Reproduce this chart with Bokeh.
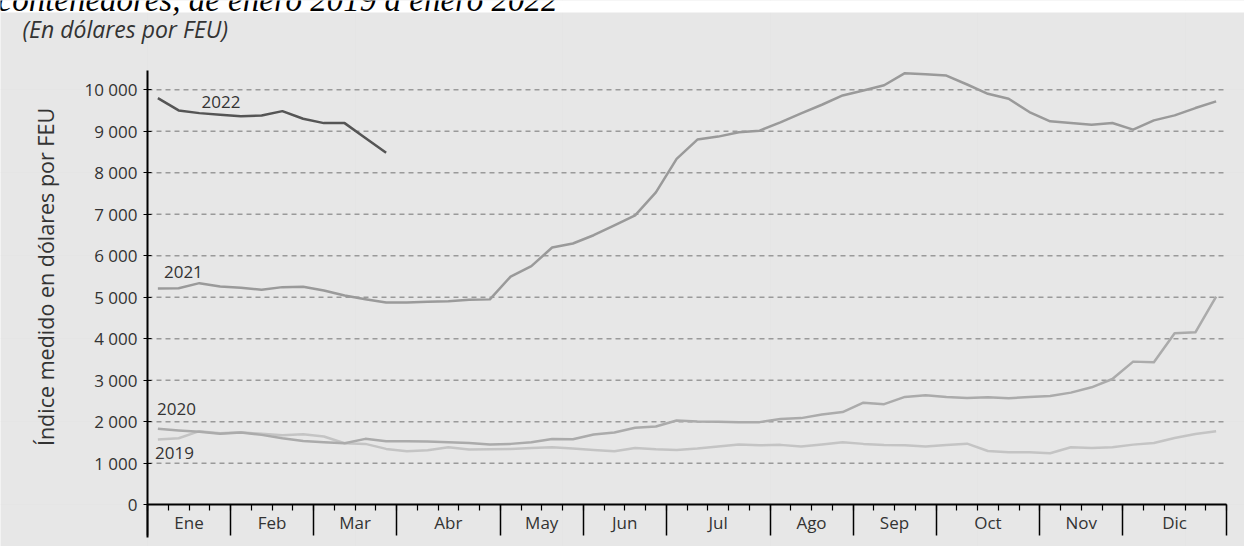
import numpy as np
from bokeh.plotting import figure
from bokeh.models import FixedTicker, LinearAxis, Range1d
from bokeh.embed import file_html
from bokeh.resources import INLINE
from bokeh.core.properties import value

# ---------------- data ----------------
meses = ["Ene", "Feb", "Mar", "Abr", "May", "Jun", "Jul", "Ago", "Sep", "Oct", "Nov", "Dic"]
semanas_por_mes = [4, 4, 4, 5, 4, 4, 5, 4, 4, 5, 4, 5]
semanas = list(range(1, 53))

indice_2019 = [1573, 1605, 1774, 1726, 1750, 1710, 1677, 1702, 1645, 1484,
               1468, 1347, 1290, 1315, 1387, 1331, 1339, 1347, 1371, 1387,
               1355, 1323, 1290, 1371, 1339, 1323, 1355, 1403, 1452, 1435,
               1444, 1403, 1452, 1508, 1468, 1442, 1434, 1402, 1442, 1474,
               1297, 1265, 1265, 1241, 1386, 1370, 1386, 1450, 1490, 1610,
               1707, 1771]
indice_2020 = [1831, 1790, 1758, 1710, 1742, 1685, 1605, 1540, 1508, 1484,
               1589, 1532, 1532, 1524, 1508, 1492, 1452, 1468, 1508, 1585,
               1581, 1694, 1742, 1855, 1887, 2032, 2008, 2000, 1992, 1992,
               2065, 2089, 2177, 2234, 2460, 2425, 2600, 2639, 2598, 2574,
               2590, 2566, 2598, 2622, 2703, 2831, 3032, 3450, 3434, 4133,
               4157, 5016]
indice_2021 = [5213, 5220, 5341, 5261, 5230, 5181, 5245, 5253, 5165, 5044,
               4955, 4875, 4875, 4892, 4907, 4940, 4950, 5500, 5750, 6200,
               6296, 6496, 6736, 6976, 7530, 8336, 8800, 8872, 8976, 9016,
               9216, 9432, 9640, 9864, 9984, 10110, 10400, 10376, 10344, 10128,
               9904, 9784, 9464, 9240, 9200, 9160, 9200, 9040, 9264, 9384,
               9560, 9720]
indice_2022 = [9800, 9503, 9438, 9399, 9365, 9380, 9486, 9302, 9197, 9197,
               8840, 8483]

anios = ["2022", "2021", "2020", "2019"]
y_ticks = [0, 1000, 2000, 3000, 4000, 5000, 6000, 7000, 8000, 9000, 10000]
y_tick_labels = ["0", "1 000", "2 000", "3 000", "4 000", "5 000", "6 000",
                 "7 000", "8 000", "9 000", "10 000"]

titulo_texto = "contenedores, de enero 2019 a enero 2022"
subtitulo_texto = "(En dólares por FEU)"
eje_y_texto = "Índice medido en dólares por FEU"

# year-label positions (week, value)
etiqueta_x = [3.54, 1.73, 1.40, 1.30]
etiqueta_y = [9707, 5610, 2297, 1248]

# ---------------- geometry / style ----------------
W, H = 1244, 546
PX_X0, PX_PER_WEEK = 147.0, 20.75       # screen x of week 0, pixels per week
PX_Y0, PX_PER_UNIT = 504.3, 0.0415      # screen y of value 0, pixels per dollar


def dx(px):
    return (px - PX_X0) / PX_PER_WEEK


def dy(py):
    return (PX_Y0 - py) / PX_PER_UNIT


BG = "#e7e7e7"
FONT = "Open Sans"
TXT = "#333333"
colores = {"2019": "#c4c4c4", "2020": "#ababab", "2021": "#9a9a9a", "2022": "#555555"}

limites = np.concatenate([[0], np.cumsum(semanas_por_mes)])
centros = (limites[:-1] + limites[1:]) / 2.0
xpos = np.array(semanas, dtype=float) - 0.5

p = figure(width=W, height=H,
           x_range=Range1d(dx(0), dx(W)), y_range=Range1d(dy(H), dy(0)),
           x_axis_location=None, y_axis_location=None,
           output_backend="svg", toolbar_location=None,
           min_border_left=0, min_border_right=0, min_border_top=0, min_border_bottom=0,
           background_fill_color=BG, border_fill_color=BG,
           outline_line_color=None)

# white strip at the top holding the (cut) title
p.quad(left=[dx(0)], right=[dx(W)], bottom=[dy(12)], top=[dy(0)],
       fill_color="white", line_color=None)
p.text(x=[dx(-3)], y=[dy(17)], text=[titulo_texto], text_font=value("Liberation Serif"),
       text_font_style="italic", text_font_size="33px",
       text_baseline="bottom", text_align="left", text_color="black")

# subtitle
p.text(x=[dx(22)], y=[dy(28.5)], text=[subtitulo_texto], text_font=value(FONT),
       text_font_style="italic", text_font_size="23px",
       text_baseline="middle", text_align="left", text_color=TXT)

# y axis title
p.text(x=[dx(45)], y=[dy(276.5)], text=[eje_y_texto], text_font=value(FONT),
       text_font_size="21.5px", angle=np.pi / 2,
       text_baseline="middle", text_align="center", text_color=TXT)

# horizontal dashed grid lines between first and last month boundary
p.segment(x0=limites[0], x1=limites[-1], y0=y_ticks[1:], y1=y_ticks[1:],
          line_color="#9a9a9a", line_dash="5 4", line_width=1.5)

# y axis at week 0
ya = LinearAxis(ticker=FixedTicker(ticks=y_ticks), fixed_location=0,
                bounds=(dy(537), dy(70)),
                major_label_overrides=dict(zip(y_ticks, y_tick_labels)),
                axis_line_color="black", axis_line_width=2,
                major_tick_line_color="black", major_tick_line_width=1.2,
                major_tick_in=4, major_tick_out=4,
                minor_tick_line_color=None,
                major_label_standoff=6,
                major_label_text_font=FONT, major_label_text_font_size="17px",
                major_label_text_color=TXT)
p.add_layout(ya, "left")

# x axis: month boundaries (long ticks) at y = 0
ax_lim = LinearAxis(ticker=FixedTicker(ticks=list(limites)), fixed_location=0,
                    bounds=(float(limites[0]), float(limites[-1])),
                    axis_line_color=None,
                    major_tick_line_color="black", major_tick_line_width=1.5,
                    major_tick_in=0, major_tick_out=31,
                    minor_tick_line_color=None,
                    major_label_text_color=None)
p.add_layout(ax_lim, "below")

# x axis: month names and week ticks at y = 0
ax_mes = LinearAxis(ticker=FixedTicker(ticks=list(centros), minor_ticks=list(np.arange(0, 53))),
                    fixed_location=0,
                    bounds=(float(limites[0]), float(limites[-1])),
                    major_label_overrides={float(c): m for c, m in zip(centros, meses)},
                    axis_line_color="black", axis_line_width=2,
                    major_tick_line_color=None, major_tick_in=0, major_tick_out=0,
                    minor_tick_line_color="black", minor_tick_line_width=1.2,
                    minor_tick_in=0, minor_tick_out=6,
                    major_label_standoff=0,
                    major_label_text_font=FONT, major_label_text_font_size="17px",
                    major_label_text_color=TXT)
p.add_layout(ax_mes, "below")

# series
p.line(xpos, indice_2019, line_color=colores["2019"], line_width=2.5, line_join="round")
p.line(xpos, indice_2020, line_color=colores["2020"], line_width=2.5, line_join="round")
p.line(xpos, indice_2021, line_color=colores["2021"], line_width=2.5, line_join="round")
p.line(xpos[:len(indice_2022)], indice_2022, line_color=colores["2022"], line_width=2.5, line_join="round")

p.text(x=etiqueta_x, y=etiqueta_y, text=anios, text_font=value(FONT),
       text_font_size="17px", text_align="center", text_baseline="middle",
       text_color=TXT)

open("out.html", "w").write(file_html(p, INLINE))
